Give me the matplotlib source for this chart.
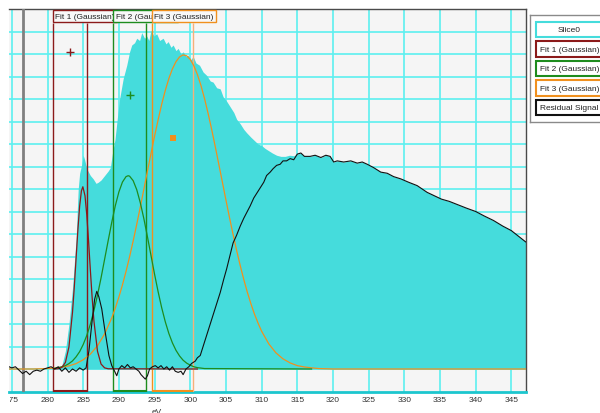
import numpy as np
import matplotlib
matplotlib.use("Agg")
import matplotlib.pyplot as plt
from matplotlib.patches import Rectangle
from matplotlib.transforms import Bbox, TransformedBbox

plt.rcParams['font.family'] = ['Liberation Sans', 'DejaVu Sans']

# ---- data ----
# Slice0 spectrum (up to 315 eV), then the tail shared with the residual
slice_ev = [274.6, 281.5, 282.0, 282.5, 283.0, 283.5, 283.8, 284.0, 284.3, 284.5, 284.8, 285.0,
            285.2, 285.5, 286.0, 286.4, 286.8, 287.1, 287.5, 288.0, 288.5, 288.8, 289.1, 289.45,
            289.8, 290.1, 290.6, 291.1, 291.5, 291.8, 292.2, 292.5, 292.9, 293.2, 293.6, 293.9,
            294.2, 294.5, 294.9, 295.3, 295.7, 296.2, 296.6, 296.9, 297.3, 297.6, 298.0, 298.3,
            298.7, 299.0, 299.4, 299.7, 300.1, 300.4, 300.8, 301.3, 301.8, 302.3, 302.8, 303.2,
            303.7, 304.2, 304.6, 305.1, 305.6, 306.1, 306.5, 307.0, 307.5, 307.9, 308.5, 309.0,
            309.5, 310.0, 310.5, 311.0, 311.5, 312.1, 312.7, 313.3, 313.9, 314.5]
slice_val = [0.0, 0.0, 0.15, 0.8, 2.0, 3.6, 4.9, 5.8, 8.0, 8.7, 9.1, 9.5,
             9.3, 8.9, 8.6, 8.45, 8.25, 8.3, 8.4, 8.6, 8.8, 8.95, 9.6, 10.2,
             11.2, 12.0, 12.9, 13.5, 14.1, 14.4, 14.5, 14.7, 14.6, 14.95, 14.7, 14.8,
             14.6, 15.05, 14.8, 14.9, 14.6, 14.7, 14.45, 14.55, 14.3, 14.4, 14.15, 14.25,
             14.0, 14.1, 13.9, 13.95, 13.75, 13.9, 13.6, 13.5, 13.2, 13.05, 12.8, 12.75,
             12.5, 12.45, 12.1, 11.9, 11.65, 11.4, 11.1, 10.9, 10.65, 10.5, 10.3, 10.15,
             10.0, 9.93, 9.8, 9.7, 9.6, 9.5, 9.45, 9.45, 9.5, 9.48]

tail_ev = [315.0, 315.5, 316.0, 316.8, 317.5, 318.3, 319.0, 319.6, 320.1, 320.6, 321.5, 322.5,
           323.4, 324.1, 324.8, 325.7, 326.7, 327.6, 328.5, 329.5, 330.6, 331.8, 332.5, 333.2,
           334.2, 335.2, 336.3, 337.5, 338.7, 340.0, 341.2, 342.5, 343.8, 345.0, 346.0, 347.0]
tail_val = [9.55, 9.6, 9.45, 9.45, 9.5, 9.4, 9.5, 9.45, 9.2, 9.25, 9.2, 9.25,
            9.15, 9.2, 9.1, 8.95, 8.75, 8.7, 8.55, 8.45, 8.3, 8.15, 8.0, 7.85,
            7.7, 7.55, 7.45, 7.3, 7.15, 7.0, 6.8, 6.6, 6.35, 6.15, 5.9, 5.65]

# Residual signal (up to 315 eV, then same tail)
res_ev = [274.6, 275.0, 275.5, 276.0, 276.5, 277.0, 277.5, 278.0, 278.5, 279.0, 279.5, 280.0,
          280.5, 281.0, 281.5, 282.0, 282.5, 283.0, 283.5, 284.0, 284.5, 285.0, 285.4, 285.8,
          286.2, 286.6, 286.9, 287.2, 287.6, 288.0, 288.3, 288.6, 289.0, 289.4, 289.7, 290.0,
          290.4, 290.8, 291.2, 291.6, 292.0, 292.4, 292.8, 293.1, 293.4, 293.7, 294.0, 294.3,
          294.7, 295.1, 295.5, 295.9, 296.3, 296.7, 297.1, 297.5, 297.9, 298.3, 298.7, 299.0,
          299.4, 299.8, 300.2, 300.7, 301.0, 301.4, 301.8, 302.3, 302.7, 303.2, 303.7, 304.2,
          304.7, 305.1, 305.6, 306.0, 306.5, 307.0, 307.5, 308.0, 308.4, 308.9, 309.4, 309.8,
          310.3, 310.7, 311.2, 311.6, 312.1, 312.6, 313.0, 313.5, 314.0, 314.5]
res_val = [0.1, 0.05, 0.1, -0.05, -0.2, -0.1, -0.25, -0.1, -0.05, -0.1, 0.0, 0.05,
           0.1, 0.0, 0.1, -0.1, 0.05, -0.15, 0.0, -0.1, 0.05, -0.05, 0.05, 0.8,
           2.0, 3.1, 3.45, 3.2, 2.67, 1.8, 1.2, 0.6, 0.15, -0.1, -0.3, 0.0,
           0.15, 0.05, 0.2, 0.05, 0.1, 0.0, -0.1, -0.25, -0.35, -0.45, -0.3, 0.0,
           0.1, 0.15, 0.05, 0.15, 0.0, 0.1, -0.05, 0.1, -0.1, -0.15, -0.1, -0.25,
           0.0, 0.1, 0.25, 0.35, 0.5, 0.6, 1.0, 1.5, 1.9, 2.4, 2.9, 3.4,
           4.0, 4.45, 5.1, 5.6, 5.95, 6.35, 6.7, 7.0, 7.25, 7.6, 7.85, 8.05,
           8.3, 8.6, 8.75, 8.9, 9.05, 9.1, 9.25, 9.25, 9.35, 9.3]

# Fit curves
fit1_ev = [281.0, 281.5, 282.0, 282.5, 283.0, 283.5, 283.75, 284.0, 284.25, 284.5, 284.75, 284.95,
           285.25, 285.5, 285.75, 286.0, 286.25, 286.5, 287.0, 287.5, 288.0, 288.5, 301.0]
fit1_val = [0.0, 0.01, 0.07, 0.29, 0.98, 2.53, 3.65, 4.91, 6.17, 7.24, 7.92, 8.10,
            7.70, 6.85, 5.68, 4.40, 3.18, 2.14, 0.79, 0.22, 0.05, 0.01, 0.0]

fit2_ev = [281.0, 281.5, 282.0, 282.5, 283.0, 283.5, 284.0, 284.5, 285.0, 285.5, 286.0, 286.5,
           287.0, 287.5, 288.0, 288.5, 289.0, 289.5, 290.0, 290.5, 291.0, 291.3, 291.5, 292.0,
           292.5, 293.0, 293.5, 294.0, 294.5, 295.0, 295.5, 296.0, 296.5, 297.0, 297.5, 298.0,
           298.5, 299.0, 299.5, 300.0, 300.5, 301.0, 301.5, 302.0, 317.0]
fit2_val = [0.03, 0.06, 0.10, 0.15, 0.24, 0.36, 0.54, 0.77, 1.09, 1.49, 1.99, 2.59,
            3.28, 4.05, 4.88, 5.71, 6.52, 7.26, 7.87, 8.31, 8.55, 8.59, 8.57, 8.37,
            7.97, 7.39, 6.68, 5.88, 5.04, 4.21, 3.43, 2.72, 2.10, 1.58, 1.16, 0.83,
            0.58, 0.39, 0.26, 0.17, 0.10, 0.06, 0.04, 0.02, 0.0]

fit3_ev = [274.6, 278.0, 280.0, 281.0, 282.0, 283.0, 284.0, 285.0, 286.0, 287.0, 288.0, 289.0,
           289.5, 290.0, 290.5, 291.0, 291.5, 292.0, 292.5, 293.0, 293.5, 294.0, 294.5, 295.0,
           295.5, 296.0, 296.5, 297.0, 297.5, 298.0, 298.5, 299.0, 299.5, 300.0, 300.5, 301.0,
           301.5, 302.0, 302.5, 303.0, 303.5, 304.0, 304.5, 305.0, 305.5, 306.0, 306.5, 307.0,
           307.5, 308.0, 308.5, 309.0, 309.5, 310.0, 311.0, 312.0, 313.0, 314.0, 315.0, 316.0,
           317.0, 318.0, 320.0, 347.0]
fit3_val = [0.0, 0.0, 0.02, 0.04, 0.08, 0.14, 0.24, 0.41, 0.66, 1.03, 1.56, 2.27,
            2.71, 3.20, 3.74, 4.34, 4.99, 5.69, 6.43, 7.20, 7.99, 8.79, 9.58, 10.35,
            11.08, 11.77, 12.38, 12.91, 13.34, 13.66, 13.87, 13.96, 13.92, 13.76, 13.48, 13.09,
            12.60, 12.02, 11.36, 10.65, 9.89, 9.10, 8.31, 7.51, 6.73, 5.98, 5.27, 4.60,
            3.98, 3.41, 2.90, 2.44, 2.04, 1.68, 1.12, 0.72, 0.45, 0.27, 0.15, 0.09,
            0.05, 0.02, 0.0, 0.0]

# fit windows (eV) and fit handle markers
fit_windows = [(280.7, 285.5), (289.2, 293.75), (294.6, 300.35)]
handle_ev = [283.13, 291.57, 297.6]
handle_val = [14.09, 12.18, 10.27]
marker_line = 276.5

fit_names = ['Fit 1 (Gaussian)', 'Fit 2 (Gaussian)', 'Fit 3 (Gaussian)']
fit_colors = ['#8B1A1A', '#1E8C1E', '#F0901E']
edge_colors = ['#8B1A1A', '#1E8C1E', '#F5B07A']
slice_color = '#45DCDC'
grid_color = '#5CF0F0'

xticks = list(range(275, 350, 5))

# ---- figure ----
fig = plt.figure(figsize=(6, 4.14), dpi=100)
ax = fig.add_axes([9 / 600, 21.5 / 414, 517 / 600, 382.5 / 414])
ax.set_facecolor('#F5F5F5')
ax.set_xlim(274.6, 347.05)
ax.set_ylim(-1, 16)

ax.set_axisbelow(True)
ax.set_xticks(xticks)
ax.set_xticklabels([str(t) for t in xticks])
ax.set_yticks(range(0, 16))
ax.set_yticklabels([])
ax.grid(True, color=grid_color, lw=1.2)
ax.tick_params(axis='both', length=0)
ax.tick_params(axis='x', pad=3.5, labelsize=6, labelcolor='#333333')

for side in ['top', 'right']:
    ax.spines[side].set_color('#4A4A4A')
    ax.spines[side].set_linewidth(1)
ax.spines['left'].set_visible(False)
ax.spines['bottom'].set_color('#1CC6CE')
ax.spines['bottom'].set_linewidth(2)

# spectrum
sx = np.array(slice_ev + tail_ev)
sy = np.array(slice_val + tail_val)
ax.fill_between(sx, 0, sy, color=slice_color, lw=0, zorder=2)

ax.axvline(marker_line, color='#808080', lw=2, zorder=3)

# fit windows
for (lo, hi), c, ec in zip(fit_windows, fit_colors, edge_colors):
    ax.vlines(lo, -1, 15.4, color=c, lw=1, zorder=3)
    ax.vlines(hi, -1, 15.4, color=ec, lw=1, zorder=3)
    ax.hlines(-0.96, lo, hi, color=c, lw=1.5, zorder=4)

# fits (drawn 3, 2, 1 so fit 1 sits on top)
ax.plot(fit3_ev, fit3_val, color=fit_colors[2], lw=0.9, zorder=4)
ax.plot(fit2_ev, fit2_val, color=fit_colors[1], lw=0.9, zorder=4)
ax.plot(fit1_ev, fit1_val, color=fit_colors[0], lw=0.9, zorder=4)

rx = np.array(res_ev + tail_ev)
ry = np.array(res_val + tail_val)
ax.plot(rx, ry, color='#111111', lw=0.8, zorder=5)

ax.plot(handle_ev[0], handle_val[0], marker='+', color=fit_colors[0], ms=6, mew=1, zorder=6)
ax.plot(handle_ev[1], handle_val[1], marker='+', color=fit_colors[1], ms=6, mew=1, zorder=6)
ax.plot(handle_ev[2], handle_val[2], marker='s', color=fit_colors[2], ms=5, mew=0, zorder=6)

# labels on top of each fit window
for (lo, hi), name, c in zip(fit_windows, fit_names, fit_colors):
    ax.annotate(name, xy=(lo, 1), xycoords=('data', 'axes fraction'),
                xytext=(1.9, -2.6), textcoords='offset points', ha='left', va='top',
                fontsize=6, color='#222222', zorder=7,
                bbox=dict(boxstyle='square,pad=0.3', fc='#F8F8F8', ec=c, lw=1))

# clip the tick labels to the plot's left edge (first label shows as "75")
clip = TransformedBbox(Bbox([[9.8 / 600, 0], [1, 1]]), fig.transFigure)
for lab in ax.get_xticklabels():
    lab.set_clip_box(clip)
    lab.set_clip_on(True)

fig.text(157 / 600, 5 / 414, 'eV', ha='center', va='top', fontsize=6, color='#333333')

# legend panel on the right
lg = fig.add_axes([530 / 600, (414 - 122.7) / 414, 80 / 600, 106.7 / 414])
lg.set_xlim(0, 80)
lg.set_ylim(106.7, 0)
lg.set_xticks([])
lg.set_yticks([])
for s in lg.spines.values():
    s.set_color('#8A8A8A')
    s.set_linewidth(1)

legend_names = ['Slice0'] + fit_names + ['Residual Signal']
legend_colors = [slice_color] + fit_colors + ['#111111']
for i, (name, c) in enumerate(zip(legend_names, legend_colors)):
    top = 6.7 + i * 19.5
    lg.add_patch(Rectangle((6, top), 66, 15.5, fc='white', ec=c, lw=1.5))
    if i == 0:
        lg.text(39, top + 7.9, name, ha='center', va='center', fontsize=6, color='#222222')
    else:
        lg.text(10.5, top + 7.9, name, ha='left', va='center', fontsize=6, color='#222222')

fig.savefig('out.png', dpi=100)
